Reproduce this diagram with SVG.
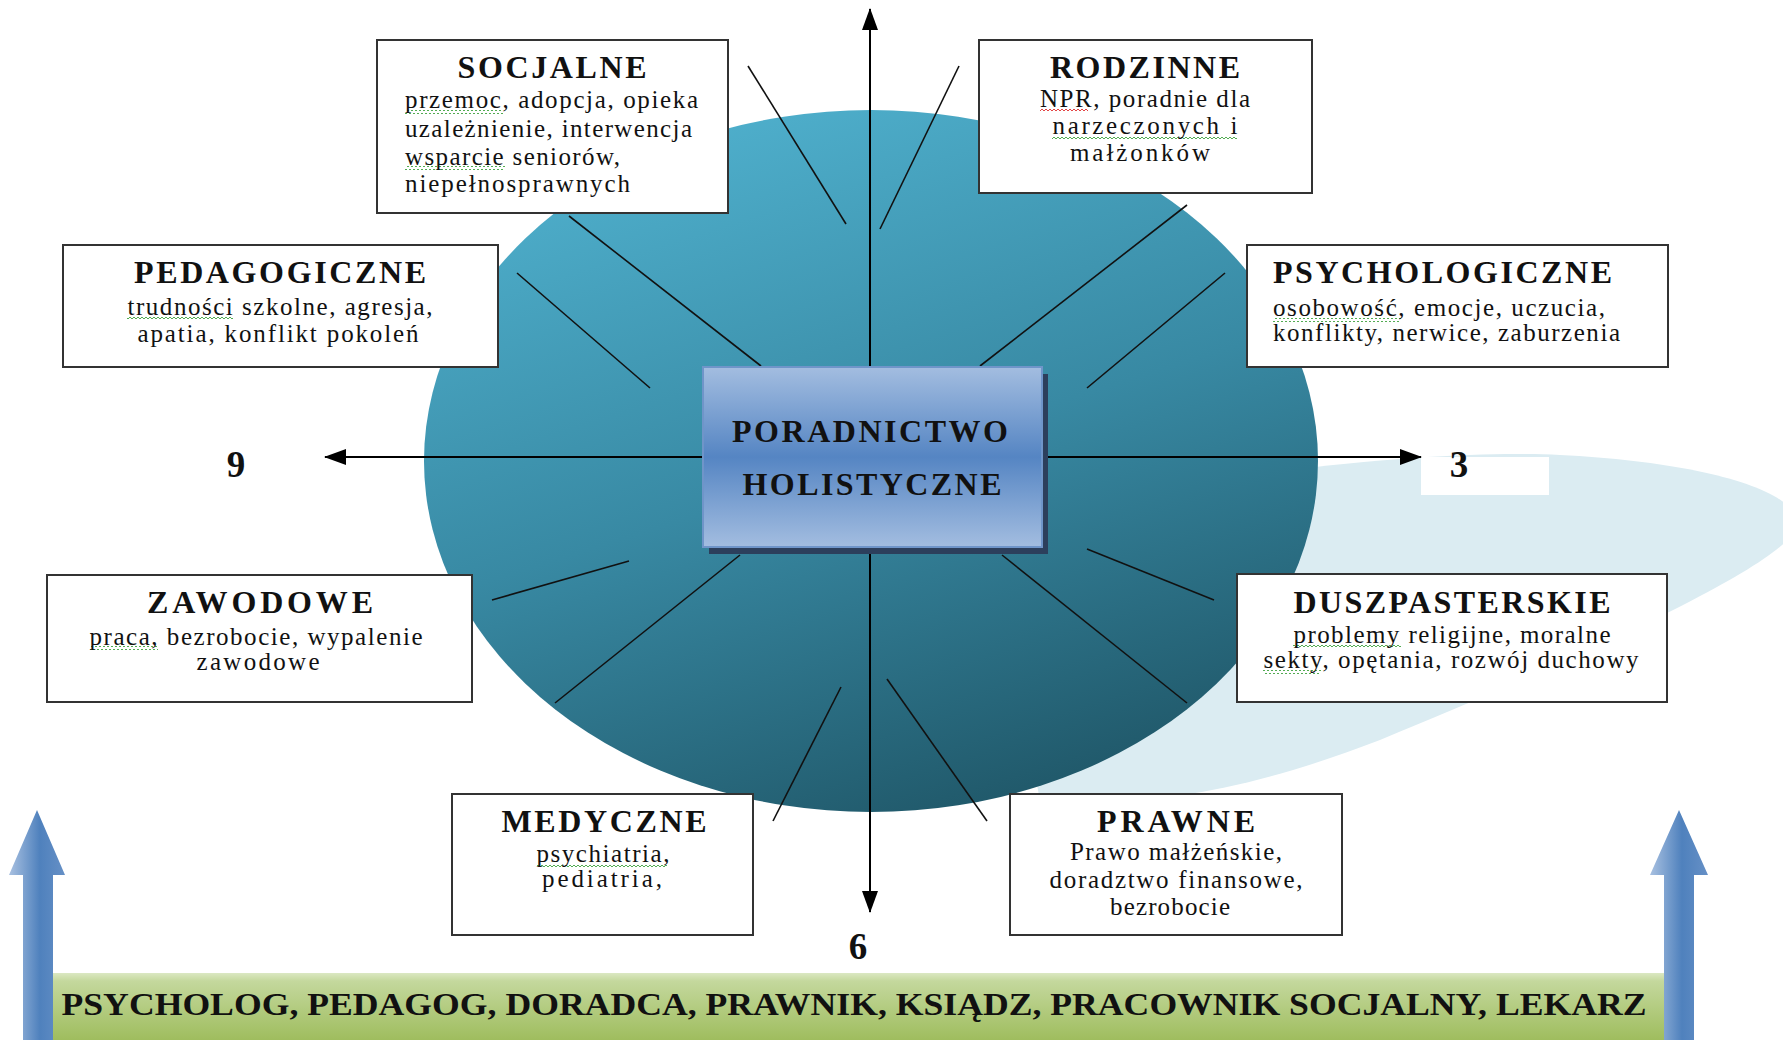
<svg xmlns="http://www.w3.org/2000/svg" width="1783" height="1040" viewBox="0 0 1783 1040">
<style>
  .t { font-family: "Liberation Serif", "Times New Roman", serif; font-weight: bold; font-size: 32px; fill: #111; }
  .b { font-family: "Liberation Serif", "Times New Roman", serif; font-size: 25px; fill: #111; }
  .num { font-family: "Liberation Serif", "Times New Roman", serif; font-weight: bold; font-size: 37px; fill: #111; text-anchor: middle; }
  .box { fill: #fff; stroke: #333; stroke-width: 2; }
  .spoke { stroke: #111; stroke-width: 1.6; fill: none; }
  .axis { stroke: #000; stroke-width: 2; fill: none; marker-end: url(#ah); }
  .wg { fill: url(#wavyG); }
  .wr { fill: url(#wavyR); }
</style>
<defs>
  <linearGradient id="gCircle" x1="0.3" y1="0" x2="0.7" y2="1">
    <stop offset="0" stop-color="#4fb0cd"/>
    <stop offset="0.5" stop-color="#3889a3"/>
    <stop offset="1" stop-color="#1f5667"/>
  </linearGradient>
  <linearGradient id="gCenter" x1="0" y1="0" x2="0" y2="1">
    <stop offset="0" stop-color="#a3bde0"/>
    <stop offset="0.5" stop-color="#5585c3"/>
    <stop offset="1" stop-color="#a3bde0"/>
  </linearGradient>
  <linearGradient id="gGreen" x1="0" y1="0" x2="0" y2="1">
    <stop offset="0" stop-color="#dbe8c2"/>
    <stop offset="0.12" stop-color="#c4d89d"/>
    <stop offset="1" stop-color="#9fbd5e"/>
  </linearGradient>
  <linearGradient id="gBlue" x1="0" y1="0" x2="1" y2="0">
    <stop offset="0" stop-color="#a9c1e1"/>
    <stop offset="0.55" stop-color="#4f81bd"/>
    <stop offset="1" stop-color="#6690c6"/>
  </linearGradient>
  <marker id="ah" viewBox="0 0 22 16" refX="21" refY="8" markerWidth="22" markerHeight="16" markerUnits="userSpaceOnUse" orient="auto">
    <path d="M0,0 L22,8 L0,16 Z" fill="#000"/>
  </marker>
  <pattern id="wavyG" width="4" height="4" patternUnits="userSpaceOnUse">
    <path d="M0,3 L2,1 L4,3" fill="none" stroke="#3fa33f" stroke-width="0.9"/>
  </pattern>
  <pattern id="wavyR" width="4" height="4" patternUnits="userSpaceOnUse">
    <path d="M0,3 L2,1 L4,3" fill="none" stroke="#e03030" stroke-width="0.9"/>
  </pattern>
</defs>

<g id="background">
  <path id="swoosh" d="M1000,600 L1250,475 C1400,455 1500,452 1560,455 C1700,462 1800,490 1797,525 C1793,560 1600,650 1380,740 C1250,790 1150,808 1040,800 Z" fill="#dbecf2"/>
  <ellipse id="circle" cx="871" cy="461" rx="447" ry="351" fill="url(#gCircle)"/>
  <rect id="label3bg" x="1421" y="457" width="128" height="38" fill="#fff"/>
</g>

<g id="connectors">
  <line class="spoke" x1="748" y1="66" x2="846" y2="224"/>
  <line class="spoke" x1="959" y1="66" x2="880" y2="229"/>
  <line class="spoke" x1="569" y1="216" x2="761" y2="366"/>
  <line class="spoke" x1="1187" y1="205" x2="980" y2="366"/>
  <line class="spoke" x1="517" y1="273" x2="650" y2="388"/>
  <line class="spoke" x1="1225" y1="273" x2="1087" y2="388"/>
  <line class="spoke" x1="492" y1="600" x2="629" y2="561"/>
  <line class="spoke" x1="1087" y1="549" x2="1214" y2="600"/>
  <line class="spoke" x1="555" y1="703" x2="740" y2="555"/>
  <line class="spoke" x1="1002" y1="555" x2="1187" y2="703"/>
  <line class="spoke" x1="773" y1="821" x2="841" y2="687"/>
  <line class="spoke" x1="887" y1="679" x2="987" y2="821"/>
  <path class="axis" d="M870,367 L870,9"/>
  <path class="axis" d="M870,550 L870,912"/>
  <path class="axis" d="M705,457 L325,457"/>
  <path class="axis" d="M1042,457 L1421,457"/>
</g>

<g id="center">
  <rect x="709" y="374" width="339" height="180" fill="#2c3f5c"/>
  <rect x="703" y="367" width="339" height="180" fill="url(#gCenter)" stroke="#6f95c9" stroke-width="2"/>
  <text class="t" x="870" y="442" text-anchor="middle" textLength="276" lengthAdjust="spacing">PORADNICTWO</text>
  <text class="t" x="872" y="495" text-anchor="middle" textLength="259" lengthAdjust="spacing">HOLISTYCZNE</text>
</g>

<g id="socjalne">
  <rect class="box" x="377" y="40" width="351" height="173"/>
  <rect class="wg" x="405" y="110" width="98" height="4"/>
  <rect class="wg" x="405" y="166" width="100" height="4"/>
  <text class="t" x="552" y="78" text-anchor="middle" textLength="189" lengthAdjust="spacing">SOCJALNE</text>
  <text class="b" x="405" y="108" textLength="293" lengthAdjust="spacing">przemoc, adopcja, opieka</text>
  <text class="b" x="405" y="137" textLength="287" lengthAdjust="spacing">uzależnienie, interwencja</text>
  <text class="b" x="405" y="165" textLength="215" lengthAdjust="spacing">wsparcie seniorów,</text>
  <text class="b" x="405" y="192" textLength="225" lengthAdjust="spacing">niepełnosprawnych</text>
</g>

<g id="rodzinne">
  <rect class="box" x="979" y="40" width="333" height="153"/>
  <rect class="wr" x="1040" y="108" width="48" height="4"/>
  <rect class="wg" x="1052" y="135" width="185" height="4"/>
  <text class="t" x="1145" y="78" text-anchor="middle" textLength="190" lengthAdjust="spacing">RODZINNE</text>
  <text class="b" x="1145" y="107" text-anchor="middle" textLength="210" lengthAdjust="spacing">NPR, poradnie dla</text>
  <text class="b" x="1145" y="134" text-anchor="middle" textLength="185" lengthAdjust="spacing">narzeczonych i</text>
  <text class="b" x="1140" y="161" text-anchor="middle" textLength="140" lengthAdjust="spacing">małżonków</text>
</g>

<g id="pedagogiczne">
  <rect class="box" x="63" y="245" width="435" height="122"/>
  <rect class="wg" x="127" y="316" width="106" height="4"/>
  <text class="t" x="280" y="283" text-anchor="middle" textLength="292" lengthAdjust="spacing">PEDAGOGICZNE</text>
  <text class="b" x="280" y="315" text-anchor="middle" textLength="305" lengthAdjust="spacing">trudności szkolne, agresja,</text>
  <text class="b" x="278" y="342" text-anchor="middle" textLength="281" lengthAdjust="spacing">apatia, konflikt pokoleń</text>
</g>

<g id="psychologiczne">
  <rect class="box" x="1247" y="245" width="421" height="122"/>
  <rect class="wg" x="1273" y="318" width="128" height="4"/>
  <text class="t" x="1273" y="283" textLength="339" lengthAdjust="spacing">PSYCHOLOGICZNE</text>
  <text class="b" x="1273" y="316" textLength="332" lengthAdjust="spacing">osobowość, emocje, uczucia,</text>
  <text class="b" x="1273" y="341" textLength="347" lengthAdjust="spacing">konflikty, nerwice, zaburzenia</text>
</g>

<g id="zawodowe">
  <rect class="box" x="47" y="575" width="425" height="127"/>
  <rect class="wg" x="90" y="646" width="68" height="4"/>
  <text class="t" x="260" y="613" text-anchor="middle" textLength="226" lengthAdjust="spacing">ZAWODOWE</text>
  <text class="b" x="256" y="645" text-anchor="middle" textLength="333" lengthAdjust="spacing">praca, bezrobocie, wypalenie</text>
  <text class="b" x="258" y="670" text-anchor="middle" textLength="123" lengthAdjust="spacing">zawodowe</text>
</g>

<g id="duszpasterskie">
  <rect class="box" x="1237" y="574" width="430" height="128"/>
  <rect class="wg" x="1293" y="644" width="108" height="4"/>
  <rect class="wg" x="1263" y="670" width="58" height="4"/>
  <text class="t" x="1452" y="613" text-anchor="middle" textLength="317" lengthAdjust="spacing">DUSZPASTERSKIE</text>
  <text class="b" x="1452" y="643" text-anchor="middle" textLength="317" lengthAdjust="spacing">problemy religijne, moralne</text>
  <text class="b" x="1451" y="668" text-anchor="middle" textLength="375" lengthAdjust="spacing">sekty, opętania, rozwój duchowy</text>
</g>

<g id="medyczne">
  <rect class="box" x="452" y="794" width="301" height="141"/>
  <rect class="wg" x="537" y="864" width="130" height="4"/>
  <text class="t" x="604" y="832" text-anchor="middle" textLength="205" lengthAdjust="spacing">MEDYCZNE</text>
  <text class="b" x="603" y="862" text-anchor="middle" textLength="133" lengthAdjust="spacing">psychiatria,</text>
  <text class="b" x="602" y="887" text-anchor="middle" textLength="120" lengthAdjust="spacing">pediatria,</text>
</g>

<g id="prawne">
  <rect class="box" x="1010" y="794" width="332" height="141"/>
  <text class="t" x="1176" y="832" text-anchor="middle" textLength="158" lengthAdjust="spacing">PRAWNE</text>
  <text class="b" x="1176" y="860" text-anchor="middle" textLength="212" lengthAdjust="spacing">Prawo małżeńskie,</text>
  <text class="b" x="1176" y="888" text-anchor="middle" textLength="253" lengthAdjust="spacing">doradztwo finansowe,</text>
  <text class="b" x="1170" y="915" text-anchor="middle" textLength="120" lengthAdjust="spacing">bezrobocie</text>
</g>

<g id="numbers">
  <text class="num" x="236" y="477">9</text>
  <text class="num" x="1459" y="477">3</text>
  <text class="num" x="858" y="959">6</text>
</g>

<g id="professions">
  <rect x="53" y="973" width="1611" height="67" fill="url(#gGreen)"/>
  <text class="t" x="854" y="1015" text-anchor="middle" font-size="35" textLength="1585" lengthAdjust="spacingAndGlyphs">PSYCHOLOG, PEDAGOG, DORADCA, PRAWNIK, KSIĄDZ, PRACOWNIK SOCJALNY, LEKARZ</text>
</g>

<g id="arrow-left">
  <path d="M23,1040 L23,875 L9,875 L37,810 L65,875 L53,875 L53,1040 Z" fill="url(#gBlue)"/>
</g>
<g id="arrow-right">
  <path d="M1664,1040 L1664,875 L1650,875 L1679,810 L1708,875 L1694,875 L1694,1040 Z" fill="url(#gBlue)"/>
</g>
</svg>
